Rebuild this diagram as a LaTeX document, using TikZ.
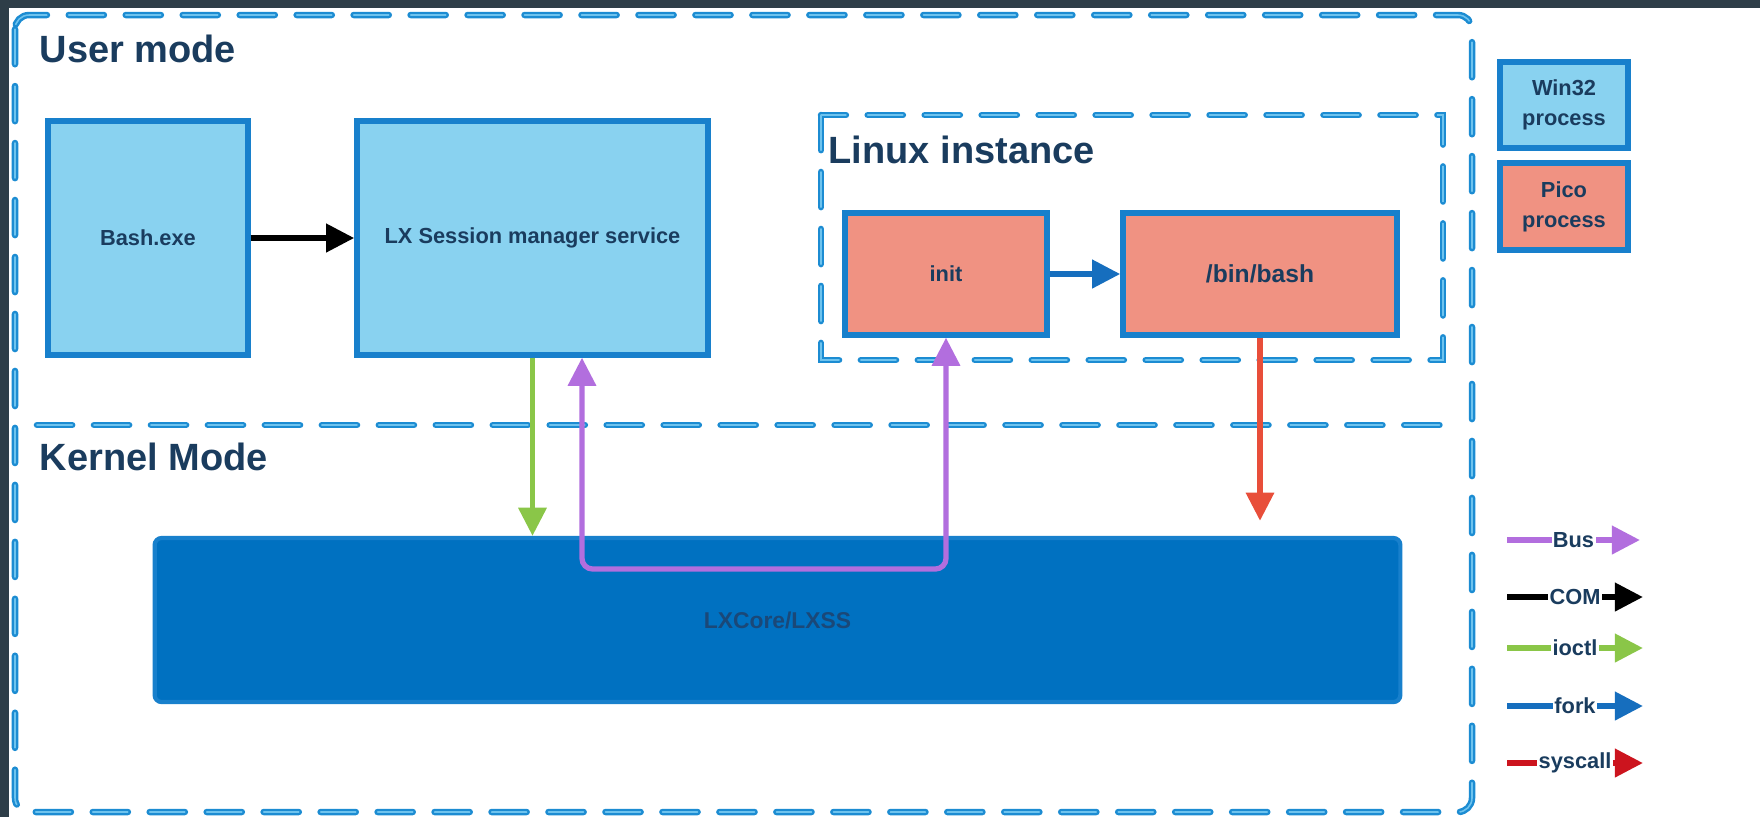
\documentclass[tikz,border=0pt]{standalone}
\usepackage{fontspec}
\setmainfont{Liberation Sans}
\usetikzlibrary{positioning}
\usetikzlibrary{arrows.meta}
\definecolor{darkbg}{RGB}{46,62,72}
\definecolor{zoneblue}{RGB}{28,140,210}
\definecolor{zonelight}{RGB}{110,195,238}
\definecolor{winfill}{RGB}{137,210,240}
\definecolor{picofill}{RGB}{240,146,130}
\definecolor{boxblue}{RGB}{24,128,204}
\definecolor{corefill}{RGB}{0,113,193}
\definecolor{textnavy}{RGB}{26,60,94}
\definecolor{corenavy}{RGB}{26,72,120}
\definecolor{buscol}{RGB}{178,110,222}
\definecolor{ioctlcol}{RGB}{138,198,72}
\definecolor{forkcol}{RGB}{22,110,190}
\definecolor{syscol}{RGB}{232,78,58}
\definecolor{sysdark}{RGB}{204,20,30}
\tikzset{
    >={Triangle[length=8pt,width=7.8pt]},
    zone/.style = {draw=zoneblue,line width=0.7pt,double=zonelight,double distance=0.45pt,dash pattern=on 10pt off 6.2pt,line cap=round},
    heading/.style = {anchor=base west,inner sep=0pt,text=textnavy,font=\bfseries\fontsize{10.8}{12}\selectfont},
    winbox/.style = {rectangle,draw=boxblue,line width=1.5pt,fill=winfill,text=textnavy,align=center,font=\bfseries\fontsize{6.2}{8.5}\selectfont},
    picobox/.style = {winbox,fill=picofill},
    corebox/.style = {rectangle,draw=boxblue,line width=1.2pt,fill=corefill,text=corenavy,rounded corners=2pt,font=\bfseries\fontsize{6.5}{8}\selectfont},
    legtext/.style = {fill=white,inner sep=0.4pt,text=textnavy,font=\bfseries\fontsize{6.2}{7}\selectfont},
    edgecom/.style = {->,line width=1.7pt,black},
    edgebus/.style = {->,line width=1.5pt,buscol}, % kernel bus
    edgeioctl/.style = {->,line width=1.5pt,ioctlcol},
    edgefork/.style = {->,line width=1.7pt,forkcol},
    edgesys/.style = {->,line width=1.5pt,syscol}
}
\begin{document}
\begin{tikzpicture}[x=0.01cm,y=-0.01cm]
%
\useasboundingbox (0,0) rectangle (1760,817);
\fill[darkbg] (0,0) rectangle (1760,817);
\fill[white] (9,8) rectangle (1760,817);
%
\draw[zone,rounded corners=4pt] (15,15) rectangle (1472,812);
\draw[zone] (37,425) -- (1450,425);
\draw[zone] (821,115) rectangle (1443,360);
%
\node[heading] at (39,62) (usermode) {User mode};
\node[heading] at (39,470) (kernelmode) {Kernel Mode};
\node[heading] at (828,163) (linuxinst) {Linux instance};
%
\node[winbox,minimum width=2.00cm,minimum height=2.34cm] at (148,238) (bashexe) {Bash.exe};
\node[winbox,minimum width=3.51cm,minimum height=2.34cm] at (532.5,238) (lxsms) {LX Session manager service};
\node[picobox,minimum width=2.02cm,minimum height=1.22cm] at (946,274) (init) {init};
\node[picobox,minimum width=2.74cm,minimum height=1.22cm,font=\bfseries\fontsize{7}{9}\selectfont] at (1260,274) (binbash) {/bin/bash};
\node[corebox,minimum width=12.45cm,minimum height=1.64cm] at (777.5,620) (lxcore) {LXCore/LXSS};
%
\node[winbox,minimum width=1.28cm,minimum height=0.86cm] at (1564,105) (win32) {Win32\\process};
\node[picobox,minimum width=1.28cm,minimum height=0.87cm] at (1564,206.5) (pico) {Pico\\process};
%
\coordinate (busl) at (582,569);
\coordinate (busr) at (946,569);
%
\draw[edgecom] (bashexe) -- (lxsms);
\draw[edgefork] (init) -- (binbash);
\draw[edgeioctl] (lxsms.south) -- (lxsms.south |- lxcore.north);
\draw[edgebus,<->,rounded corners=3pt] (lxsms.south -| busl) -- (busl) -- (busr) -- (init.south);
\draw[edgesys,shorten >=4.3pt] (binbash.south) -- (binbash.south |- lxcore.north);
%
\coordinate (busa) at (1507,540);   \coordinate (busb) at (1640,540);
\coordinate (coma) at (1507,597);   \coordinate (comb) at (1643,597);
\coordinate (ioca) at (1507,648);   \coordinate (iocb) at (1643,648);
\coordinate (forka) at (1507,706);  \coordinate (forkb) at (1643,706);
\coordinate (sysa) at (1507,763);   \coordinate (sysb) at (1643,763);
%
\draw[edgebus,line width=1.7pt] (busa) -- node[legtext] {Bus} (busb);
\draw[edgecom] (coma) -- node[legtext] {COM} (comb);
\draw[edgeioctl,line width=1.7pt] (ioca) -- node[legtext] {ioctl} (iocb);
\draw[edgefork] (forka) -- node[legtext] {fork} (forkb);
\draw[edgesys,sysdark,line width=1.7pt] (sysa) -- node[legtext] {syscall} (sysb);

\end{tikzpicture}
\end{document}
